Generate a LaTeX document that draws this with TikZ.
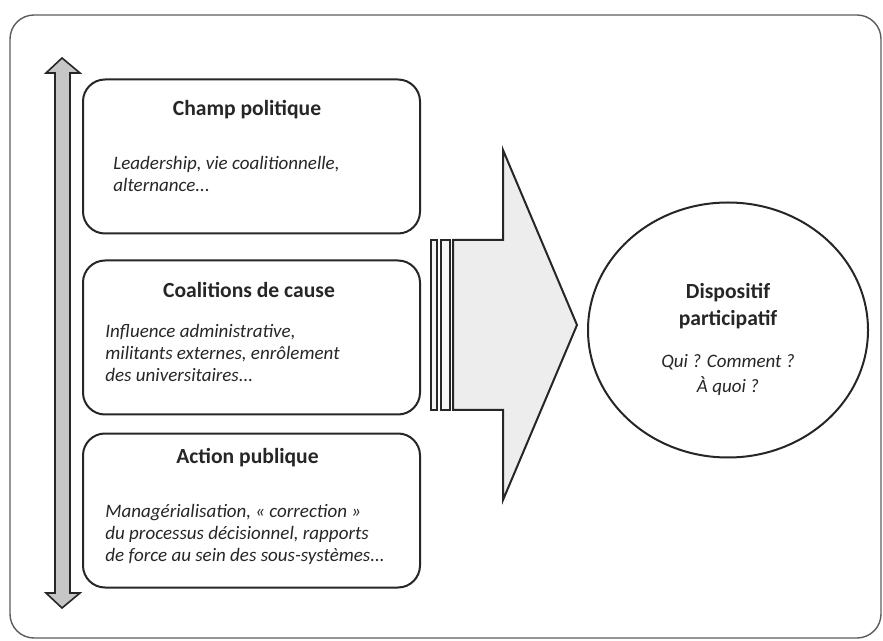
\documentclass[tikz,border=0pt]{standalone}
\usepackage{fontspec}
\setmainfont{Carlito}
\usetikzlibrary{shapes,positioning}
\colorlet{background}{white}
\colorlet{penColor}{black!85}
\colorlet{fillColor}{gray!14}
\colorlet{shaftColor}{gray!45}
\tikzset{
  box/.style={draw=penColor, line width=1pt, rounded corners=11pt, minimum width=168.5pt, minimum height=77pt},
  titre/.style={font=\fontsize{10.8}{13.5}\selectfont\bfseries, text=penColor},
  detail/.style={font=\fontsize{9.5}{11}\selectfont\itshape, text=penColor, align=left, anchor=west, inner sep=0pt}
}

\begin{document}
\begin{tikzpicture}[x=0.5pt,y=-0.5pt]
\useasboundingbox (0,0) rectangle (883,641);
% outer frame
\draw[penColor!75, line width=0.7pt, rounded corners=12pt] (10,15) rectangle (881,638);
% vertical double arrow
\draw[penColor, line width=0.8pt, fill=shaftColor] (62,58) -- (80,73) -- (70,73) -- (70,593) -- (80,593)
  -- (62,608) -- (46,593) -- (55,593) -- (55,73) -- (46,73) -- cycle;
% the three boxes
\node[box] (champ) at (251.5,156.5) {};
\node[box] (coal) at (251.5,337.5) {};
\node[box] (action) at (251.5,510.5) {};
\node[titre] (champT) at (247,110) {Champ politique};
\node[titre] (coalT) at (249,290) {Coalitions de cause};
\node[titre] (actionT) at (247.5,458) {Action publique};
\node[detail] (champD) at (113,174) {Leadership, vie coalitionnelle,\\alternance...};
\node[detail] (coalD) at (105,353) {Influence administrative,\\militants externes, enrôlement\\des universitaires...};
\node[detail] (actionD) at (105,534) {Managérialisation, « correction »\\du processus décisionnel, rapports\\de force au sein des sous-systèmes...};
% big arrow
\draw[penColor, line width=1pt, fill=fillColor] (453,240) -- (503,240) -- (503,150) -- (577,325)
  -- (503,500) -- (503,410) -- (453,410) -- cycle;
\draw[penColor, line width=0.8pt, fill=fillColor!60] (431,240) rectangle (437,410);
\draw[penColor, line width=0.8pt, fill=fillColor!60] (441,240) rectangle (450,410);
% dispositif
\node[draw=penColor, line width=1pt, ellipse, minimum width=140pt, minimum height=127.5pt] (dispo) at (728,330) {};
\node[titre, align=center] (dispoT) at (728,306.5) {Dispositif\\participatif};
\node[titre, font=\fontsize{9.5}{12.5}\selectfont\itshape, align=center] (dispoD) at (728,374.5) {Qui ? Comment ?\\À quoi ?};
\end{tikzpicture}
\end{document}
